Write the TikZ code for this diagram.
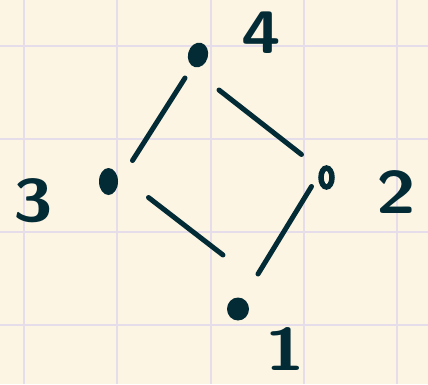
\documentclass[tikz,border=0pt]{standalone}
\usetikzlibrary{shapes.geometric}
\definecolor{paper}{HTML}{FCF5E3}
\definecolor{gridline}{HTML}{E6DDEA}
\definecolor{ink}{HTML}{032B36}

\begin{document}
\begin{tikzpicture}[x=1pt,y=-1pt,
  vtx/.style={ellipse, fill=ink, inner sep=0pt},
  lbl/.style={text=ink, inner sep=0pt, font=\fontsize{60}{60}\sffamily\bfseries\selectfont},
  edge/.style={draw=ink, line width=5pt, line cap=round}]
\useasboundingbox (0,0) rectangle (428,384);
\fill[paper] (0,0) rectangle (428,384);
% grid paper
\foreach \gx in {24,117.3,210.6,304,397.3}
  \draw[gridline, line width=2pt] (\gx,0) -- (\gx,384);
\foreach \gy in {45.5,138.8,232.1,325.4}
  \draw[gridline, line width=2pt] (0,\gy) -- (428,\gy);
% vertices
\node[vtx, minimum width=20pt, minimum height=25pt, rotate=-15] (n4) at (198,55) {};
\node[vtx, minimum width=19pt, minimum height=27pt] (n3) at (108.5,181.5) {};
\node[ellipse, draw=ink, line width=5.5pt, minimum width=11pt, minimum height=19pt, inner sep=0pt] (n2) at (326.5,177.5) {};
\node[vtx, minimum width=22pt, minimum height=23pt] (n1) at (238,309) {};
% labels
\node[lbl, xscale=1.2] (t4) at (261,33) {4};
\node[lbl, xscale=1.2] (t3) at (33,201) {3};
\node[lbl, xscale=1.2] (t2) at (396,192) {2};
\node[lbl, xscale=1.2] (t1) at (285,349) {1};
% edges
\draw[edge] ([shift={(-13,23)}]n4.center) -- ([shift={(24,-21)}]n3.center);
\draw[edge] ([shift={(21,35)}]n4.center) -- ([shift={(-25,-23)}]n2.center);
\draw[edge] ([shift={(40,16)}]n3.center) -- ([shift={(-15,-54)}]n1.center);
\draw[edge] ([shift={(-15,9)}]n2.center) -- ([shift={(20,-35)}]n1.center);
\end{tikzpicture}
\end{document}
